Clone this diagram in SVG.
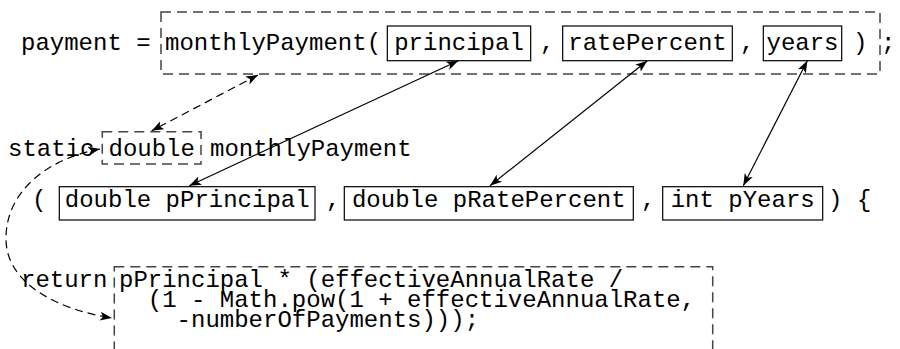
<svg xmlns="http://www.w3.org/2000/svg" width="900" height="349" viewBox="0 0 900 349">
<defs>
<style>
text{font-family:"Liberation Mono","DejaVu Sans Mono",monospace;font-size:24px;fill:#000}
.c{text-anchor:middle}
.box{fill:none;stroke:#000;stroke-width:1.2}
.dbox{fill:none;stroke:#444;stroke-width:1.5;stroke-dasharray:10 6}
.sol{fill:none;stroke:#000;stroke-width:1.2;marker-start:url(#ah);marker-end:url(#ah)}
.dsh{fill:none;stroke:#000;stroke-width:1.2;stroke-dasharray:8 5;marker-start:url(#ah);marker-end:url(#ah)}
</style>
<marker id="ah" markerUnits="userSpaceOnUse" markerWidth="13" markerHeight="10" refX="12" refY="4.5" orient="auto-start-reverse" viewBox="0 0 13 10">
<path d="M0,0 L12,4.5 L0,9 L3,4.5 z" fill="#000"/>
</marker>
</defs>
<rect width="900" height="349" fill="#fff"/>

<g id="call-line">
<text x="21" y="50">payment =</text>
<text x="881" y="50">;</text>
</g>
<g id="call">
<rect class="dbox" x="161" y="12" width="719" height="62"/>
<text x="165" y="50">monthlyPayment(</text>
<text x="540" y="50">,</text>
<text x="740" y="50">,</text>
<text x="853" y="50">)</text>
</g>
<g id="arg-principal">
<rect class="box" x="387.3" y="26" width="143.4" height="34.7"/>
<text class="c" x="459" y="50">principal</text>
</g>
<g id="arg-ratePercent">
<rect class="box" x="562.7" y="26" width="169.6" height="34.7"/>
<text class="c" x="647.5" y="50">ratePercent</text>
</g>
<g id="arg-years">
<rect class="box" x="763.3" y="26" width="78.4" height="34.7"/>
<text class="c" x="802.5" y="50">years</text>
</g>

<g id="signature">
<text x="8" y="155.5">static</text>
<text x="210" y="155.5">monthlyPayment</text>
<text x="32" y="206.5">(</text>
<text x="326" y="206.5">,</text>
<text x="641" y="206.5">,</text>
<text x="828" y="206.5">)</text>
<text x="857" y="206.5">{</text>
</g>
<g id="return-type">
<rect class="dbox" x="102.3" y="131.7" width="98.7" height="32.3"/>
<text class="c" x="151.7" y="155.5">double</text>
</g>
<g id="param-pPrincipal">
<rect class="box" x="59.3" y="186.7" width="255.7" height="33.3"/>
<text class="c" x="187.2" y="206.5">double pPrincipal</text>
</g>
<g id="param-pRatePercent">
<rect class="box" x="344.3" y="186.7" width="289" height="33.3"/>
<text class="c" x="488.8" y="206.5">double pRatePercent</text>
</g>
<g id="param-pYears">
<rect class="box" x="662.7" y="186.7" width="160" height="33.3"/>
<text class="c" x="742.7" y="206.5">int pYears</text>
</g>

<g id="return-stmt">
<text x="21" y="286.5">return</text>
</g>
<g id="return-expr">
<rect class="dbox" x="114.3" y="266.7" width="598.4" height="100"/>
<text x="119" y="286.5">pPrincipal * (effectiveAnnualRate /</text>
<text x="119" y="306.5" xml:space="preserve">  (1 - Math.pow(1 + effectiveAnnualRate,</text>
<text x="119" y="326.5" xml:space="preserve">    -numberOfPayments)));</text>
</g>

<g id="connectors">
<line class="dsh" x1="258" y1="75" x2="151.7" y2="130.7"/>
<line class="sol" x1="458.3" y1="60.7" x2="189.3" y2="185.7"/>
<line class="sol" x1="647.3" y1="60.7" x2="490" y2="185.7"/>
<line class="sol" x1="807.3" y1="60.7" x2="743.3" y2="185.7"/>
<path class="dsh" d="M100,149 C50,158 5,190 6,240 C7,285 60,310 112,318"/>
</g>
</svg>
